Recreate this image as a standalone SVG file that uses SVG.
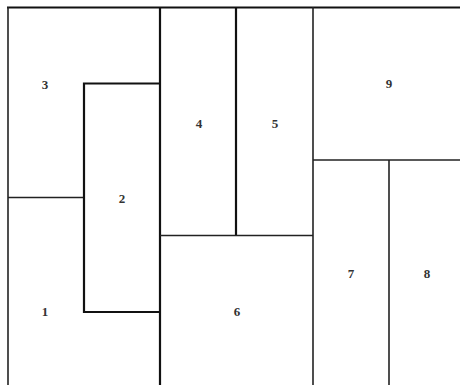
<svg xmlns="http://www.w3.org/2000/svg" width="460" height="385" viewBox="0 0 460 385">
<style>
.t{stroke:#111;stroke-width:2.2;fill:none}
.m{stroke:#222;stroke-width:1.6;fill:none}
.l{font-family:"Liberation Serif",serif;font-size:13px;font-weight:bold;fill:#333;text-anchor:middle;dominant-baseline:central}
</style>
<rect width="460" height="385" fill="#fff"/>
<g id="edges">
<line class="t" x1="7" y1="7.5" x2="460" y2="7.5"/>
<line class="m" x1="8" y1="7" x2="8" y2="385"/>
<line class="t" x1="160" y1="7" x2="160" y2="385"/>
<line class="t" x1="236" y1="7" x2="236" y2="236"/>
<line class="m" x1="313" y1="7" x2="313" y2="385"/>
<line class="m" x1="389" y1="160" x2="389" y2="385"/>
<line class="m" x1="313" y1="160" x2="460" y2="160"/>
<line class="m" x1="160" y1="235.5" x2="313" y2="235.5"/>
<line class="m" x1="8" y1="197.5" x2="84" y2="197.5"/>
<polyline class="t" points="160,83.5 84,83.5 84,312 160,312"/>
</g>
<g id="n1"><text class="l" x="45" y="311">1</text></g>
<g id="n2"><text class="l" x="122" y="198">2</text></g>
<g id="n3"><text class="l" x="45" y="84">3</text></g>
<g id="n4"><text class="l" x="199" y="123">4</text></g>
<g id="n5"><text class="l" x="275" y="123">5</text></g>
<g id="n6"><text class="l" x="237" y="311">6</text></g>
<g id="n7"><text class="l" x="351" y="273">7</text></g>
<g id="n8"><text class="l" x="427" y="273">8</text></g>
<g id="n9"><text class="l" x="389" y="83">9</text></g>
</svg>
